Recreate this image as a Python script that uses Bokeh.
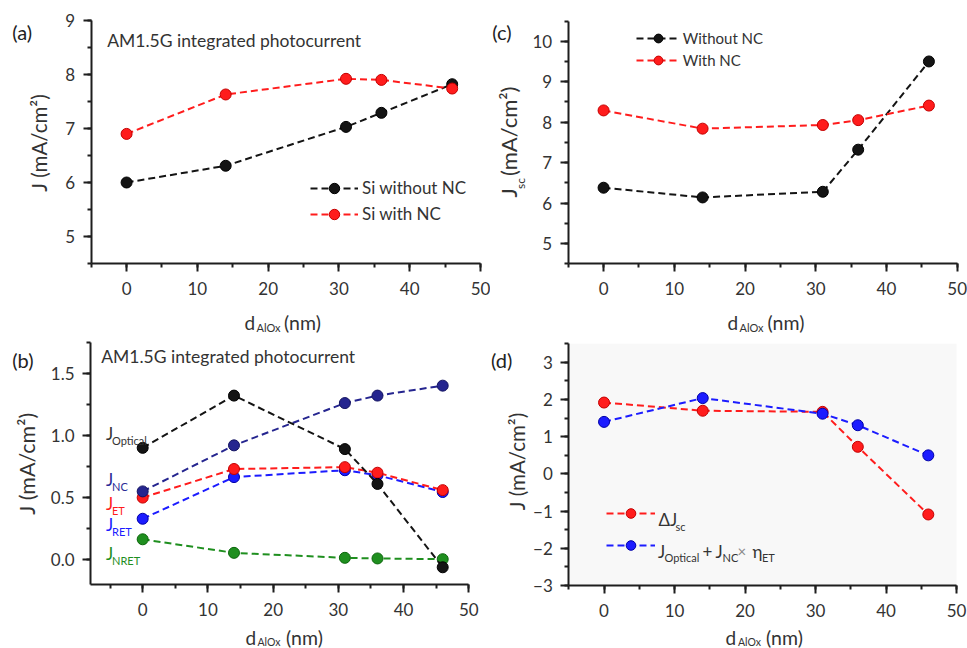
import math
from bokeh.plotting import figure
from bokeh.models import (Range1d, SingleIntervalTicker, Label, Legend, LegendItem,
                          NumeralTickFormatter, BoxAnnotation)
from bokeh.layouts import column, row
from bokeh.embed import file_html
from bokeh.resources import INLINE

FONT = "Lato"

# ---------------- data ----------------
d_alox = [0, 14, 31, 36, 46]

a_without_nc = [6.00, 6.31, 7.03, 7.29, 7.82]
a_with_nc = [6.90, 7.63, 7.92, 7.90, 7.74]

c_without_nc = [6.38, 6.14, 6.28, 7.32, 9.50]
c_with_nc = [8.29, 7.84, 7.93, 8.05, 8.41]

b_optical = [0.90, 1.32, 0.89, 0.61, -0.06]
b_nc = [0.55, 0.92, 1.26, 1.32, 1.40]
b_et = [0.50, 0.73, 0.745, 0.70, 0.56]
b_ret = [0.33, 0.665, 0.72, 0.68, 0.545]
b_nret = [0.165, 0.056, 0.016, 0.011, 0.005]

d_delta_jsc = [1.92, 1.70, 1.67, 0.73, -1.09]
d_optical_nc_eta = [1.40, 2.04, 1.62, 1.31, 0.50]

# colours
BLACK = ("#141414", "#000000")
RED = ("#ff1c1c", "#c40000")
BLUE = ("#1c1cff", "#0000a8")
NAVY = ("#25258f", "#121260")
GREEN = ("#1f8f1f", "#0b660b")
TXT = "#333333"
AXC = "#1e1e1e"

GEOM = {}


def make_fig(key, W, H, ox, oy, xv, xp, yv, yp, yint, yfmt=None):
    """xv/yv: axis data extents, xp/yp: their page pixel positions (yp = bottom, top)."""
    kx = (xp[1] - xp[0]) / (xv[1] - xv[0])
    ky = (yp[0] - yp[1]) / (yv[1] - yv[0])
    xr = (xv[0] - (xp[0] - ox) / kx, xv[1] + (ox + W - xp[1]) / kx)
    yr = (yv[0] - (oy + H - yp[0]) / ky, yv[1] + (yp[1] - oy) / ky)
    p = figure(width=W, height=H, title=None, output_backend="svg",
               toolbar_location=None, x_range=Range1d(*xr), y_range=Range1d(*yr),
               min_border=0, min_border_left=0, min_border_right=0,
               min_border_top=0, min_border_bottom=0)
    p.outline_line_color = None
    p.background_fill_color = None
    p.border_fill_color = None
    p.grid.visible = False
    p.xaxis.ticker = SingleIntervalTicker(interval=10, num_minor_ticks=2)
    p.yaxis.ticker = SingleIntervalTicker(interval=yint, num_minor_ticks=2)
    p.xaxis.fixed_location = yv[0]
    p.yaxis.fixed_location = xv[0]
    p.xaxis.bounds = xv
    p.yaxis.bounds = yv
    if yfmt:
        p.yaxis.formatter = NumeralTickFormatter(format=yfmt)
    for ax in (p.xaxis[0], p.yaxis[0]):
        ax.axis_line_width = 2
        ax.axis_line_color = AXC
        ax.major_tick_line_width = 2
        ax.minor_tick_line_width = 2
        ax.major_tick_line_color = AXC
        ax.minor_tick_line_color = AXC
        ax.major_tick_out = 8
        ax.major_tick_in = 0
        ax.minor_tick_out = 4
        ax.minor_tick_in = 0
        ax.major_label_text_font = FONT
        ax.major_label_text_font_size = "17px"
        ax.major_label_text_color = TXT
    p.xaxis.major_label_standoff = 10
    p.yaxis.major_label_standoff = 8
    GEOM[key] = (ox, oy + H)  # page coords of canvas left / bottom
    return p


def txt(key, p, px, py, text, size, color=TXT, align="left", baseline="alphabetic", angle=0.0):
    L, B = GEOM[key]
    p.add_layout(Label(x=px - L, y=B - py, x_units="screen", y_units="screen", text=text,
                       text_font=FONT, text_font_size=f"{size}px", text_color=color,
                       text_align=align, text_baseline=baseline, angle=angle))


def legend(key, p, items, x0, top, gw, gh, spacing, standoff, fs, labels):
    L, B = GEOM[key]
    n = len(items)
    bottom = top + n * gh + (n - 1) * spacing
    p.add_layout(Legend(items=[LegendItem(label=lab, renderers=list(r))
                               for lab, r in zip(labels, items)],
                        location=(x0 - L, B - bottom), padding=0, spacing=spacing, margin=0,
                        glyph_width=gw, glyph_height=gh, label_height=gh,
                        label_standoff=standoff, border_line_color=None,
                        background_fill_alpha=0, label_text_font=FONT,
                        label_text_font_size=f"{fs}px", label_text_color=TXT))


def series(p, y, col):
    ln = p.line(d_alox, y, line_color=col[0], line_width=2, line_dash="7 4")
    sc = p.scatter(d_alox, y, size=11, fill_color=col[0], line_color=col[1], line_width=1)
    return ln, sc


def xlabel(key, p, xd, xs, xn, base, sub=11):
    txt(key, p, xd, base, "d", 19)
    txt(key, p, xs, base + 4.5, "AlOx", sub)
    txt(key, p, xn, base, "(nm)", 19.5)


HALF_PI = math.pi / 2
H1, H2 = 338, 310

# ---------------- (a) ----------------
fa = make_fig("a", 490, H1, 0, 0, (-5, 50), (90.7, 480), (4.5, 9), (263, 20), 1)
ra1 = series(fa, a_without_nc, BLACK)
ra2 = series(fa, a_with_nc, RED)
legend("a", fa, [ra1, ra2], 310, 174.7, 48, 26, 0, 4, 17, ["Si without NC", "Si with NC"])
txt("a", fa, 11.7, 31.5, "(a)", 20, "#222222")
txt("a", fa, 106.7, 40, "AM1.5G integrated photocurrent", 17.5)
txt("a", fa, 38, 142.5, "J (mA/cm²)", 20.5, align="center", baseline="middle", angle=HALF_PI)
xlabel("a", fa, 244, 256, 283.5, 322.3)

# ---------------- (c) ----------------
fc = make_fig("c", 477, H1, 490, 0, (-5, 50), (567.7, 956.7), (4.5, 10.5), (263.3, 20.5), 1)
rc1 = series(fc, c_without_nc, BLACK)
rc2 = series(fc, c_with_nc, RED)
legend("c", fc, [rc1, rc2], 635.7, 27.3, 44, 22, 0, 3, 15, ["Without NC", "With NC"])
txt("c", fc, 491.7, 31.5, "(c)", 20, "#222222")
txt("c", fc, 507.5, 197, "J", 22, baseline="middle", angle=HALF_PI)
txt("c", fc, 519.5, 188.5, "sc", 12, baseline="middle", angle=HALF_PI)
txt("c", fc, 507.5, 175.5, "(mA/cm²)", 22, baseline="middle", angle=HALF_PI)
xlabel("c", fc, 727, 739, 767, 322.3)

# ---------------- (b) ----------------
fb = make_fig("b", 490, H2, 0, H1, (-8, 50), (90, 468.3), (-0.2, 1.75), (584.2, 341.6), 0.5, "0.0")
series(fb, b_nret, GREEN)
series(fb, b_ret, BLUE)
series(fb, b_et, RED)
series(fb, b_nc, NAVY)
series(fb, b_optical, BLACK)
txt("b", fb, 11.7, 359, "(b)", 20, "#222222")
txt("b", fb, 100.7, 355.7, "AM1.5G integrated photocurrent", 17.5)
txt("b", fb, 26, 463.3, "J (mA/cm²)", 21.5, align="center", baseline="middle", angle=HALF_PI)
for lab, base, col in (("Optical", 432.7, "#333333"), ("NC", 479.3, "#2a2a96"),
                       ("ET", 503.3, "#ff1c1c"), ("RET", 524.0, "#1c1cff"),
                       ("NRET", 553.3, "#1f8f1f")):
    txt("b", fb, 105.5, base, "J", 17, col)
    txt("b", fb, 111.5, base + 7, lab, 11, col)
xlabel("b", fb, 245, 257, 285.5, 637, 10.5)

# ---------------- (d) ----------------
fd = make_fig("d", 477, H2, 490, H1, (-5, 50), (568.3, 956), (-3, 3.5), (585, 343.3), 1)
fd.add_layout(BoxAnnotation(left=-5, right=50, bottom=-3, top=3.5, fill_color="#f8f8f8",
                            fill_alpha=1, line_color=None, level="underlay"))
rd1 = series(fd, d_delta_jsc, RED)
rd2 = series(fd, d_optical_nc_eta, BLUE)
legend("d", fd, [rd1, rd2], 606, 500.7, 49, 24, 8, 3, 17, [" ", " "])
txt("d", fd, 490.5, 359.5, "(d)", 20, "#222222")
txt("d", fd, 516.5, 461, "J (mA/cm²)", 20.5, align="center", baseline="middle", angle=HALF_PI)
txt("d", fd, 658, 518.5, "ΔJ", 17)
txt("d", fd, 675, 526, "sc", 11)
txt("d", fd, 657.5, 550.5, "J", 17)
txt("d", fd, 664, 557, "Optical", 11)
txt("d", fd, 702, 550.5, "+", 17)
txt("d", fd, 715, 550.5, "J", 17)
txt("d", fd, 722, 557, "NC", 11)
txt("d", fd, 737, 550.5, "×", 15, "#8a8a8a")
txt("d", fd, 752, 550.5, "η", 17)
txt("d", fd, 761.5, 557, "ET", 11)
xlabel("d", fd, 725, 737.5, 765.5, 637, 10.5)

layout = column(row(fa, fc), row(fb, fd))
open("out.html", "w").write(file_html(layout, INLINE))
